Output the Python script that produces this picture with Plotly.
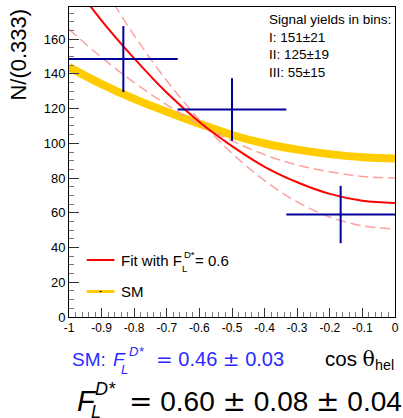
import plotly.graph_objects as go

# ---------------- data ----------------
bin_centers = [-0.8333, -0.5, -0.1667]
bin_half_width = [0.1667, 0.1667, 0.1667]
bin_values = [148.5, 119.5, 59.0]
bin_errors = [19.0, 18.0, 16.5]

curve_x = [-1.0, -0.9, -0.8, -0.7, -0.6, -0.5, -0.4, -0.3, -0.2, -0.1, 0.0]
sm_curve = [143.9, 134.1, 125.6, 118.2, 111.3, 104.8, 99.9, 96.4, 93.8, 92.0, 91.3]
fit_curve = [195.4, 170.7, 148.9, 129.1, 112.3, 98.4, 86.5, 77.6, 70.9, 67.0, 65.7]
fit_band_low_fl = [165.7, 149.4, 135.0, 122.2, 110.8, 101.4, 93.5, 87.5, 83.6, 80.9, 80.0]
fit_band_high_fl = [225.0, 191.9, 162.2, 136.0, 113.5, 94.3, 78.6, 66.3, 57.6, 52.5, 50.7]

x_tickvals = [-1, -0.9, -0.8, -0.7, -0.6, -0.5, -0.4, -0.3, -0.2, -0.1, 0]
x_ticktext = ["-1", "-0.9", "-0.8", "-0.7", "-0.6", "-0.5", "-0.4", "-0.3", "-0.2", "-0.1", "0"]
y_tickvals = [0, 20, 40, 60, 80, 100, 120, 140, 160]
y_ticktext = ["0", "20", "40", "60", "80", "100", "120", "140", "160"]

yield_lines = ["Signal yields in bins:", "I: 151\u00b121", "II: 125\u00b119", "III: 55\u00b115"]

FONT = "Liberation Sans, Arial, Helvetica, sans-serif"
SYM = "DejaVu Sans"
W, H = 403, 418
ML, MR, MT, MB = 69, 4, 7, 101
PW, PH = W - ML - MR, H - MT - MB


def px(x):
    return (x - ML) / PW


def py(y):
    return (H - MB - y) / PH


def sym(ch):
    return "<span style='font-family:%s'>%s</span>" % (SYM, ch)


fig = go.Figure()

fig.add_trace(go.Scatter(x=curve_x, y=sm_curve, mode="lines",
                         line=dict(color="#ffcc00", width=8, shape="spline"),
                         showlegend=False))
fig.add_trace(go.Scatter(x=curve_x, y=fit_band_low_fl, mode="lines",
                         line=dict(color="#ffa0a0", width=1.5, dash="10px,5px", shape="spline"),
                         showlegend=False))
fig.add_trace(go.Scatter(x=curve_x, y=fit_band_high_fl, mode="lines",
                         line=dict(color="#ffa0a0", width=1.5, dash="10px,5px", shape="spline"),
                         showlegend=False))
fig.add_trace(go.Scatter(x=curve_x, y=fit_curve, mode="lines",
                         line=dict(color="#ff0000", width=2, shape="spline"),
                         showlegend=False))
fig.add_trace(go.Scatter(x=bin_centers, y=bin_values, mode="markers",
                         marker=dict(size=1, color="#000099"),
                         error_x=dict(type="data", array=bin_half_width, color="#000099",
                                      thickness=2, width=0),
                         error_y=dict(type="data", array=bin_errors, color="#000099",
                                      thickness=2, width=0),
                         showlegend=False))

fig.update_xaxes(range=[-1, 0], tickvals=x_tickvals, ticktext=x_ticktext,
                 ticks="inside", ticklen=9, tickcolor="#333", tickwidth=1,
                 minor=dict(dtick=0.02, ticks="inside", ticklen=5, tickcolor="#777", tickwidth=1),
                 showline=True, linecolor="black", linewidth=1, mirror=True,
                 showgrid=False, zeroline=False,
                 tickfont=dict(family=FONT, size=12, color="black"))
fig.update_yaxes(range=[0, 178.5], tickvals=y_tickvals, ticktext=y_ticktext,
                 ticks="inside", ticklen=10, tickcolor="#333", tickwidth=1,
                 minor=dict(dtick=5, ticks="inside", ticklen=5, tickcolor="#777", tickwidth=1),
                 showline=True, linecolor="black", linewidth=1, mirror=True,
                 showgrid=False, zeroline=False,
                 tickfont=dict(family=FONT, size=13, color="black"))

ann = []


def text(t, x, y, size, color="black", xanchor="left", **kw):
    ann.append(dict(text=t, x=px(x), y=py(y), xref="paper", yref="paper",
                    showarrow=False, xanchor=xanchor, yanchor="middle",
                    font=dict(family=FONT, size=size, color=color), **kw))


# axis titles
text("N/(0.333)", 18, 55, 22, xanchor="center", textangle=-90)
text("cos <span style='font-family:DejaVu Serif'>\u03b8</span><sub>hel</sub>", 400, 360, 20.5,
     xanchor="right")

# signal yields box
ann.append(dict(text="<br>".join(yield_lines), x=px(269), y=py(10), xref="paper", yref="paper",
                showarrow=False, xanchor="left", yanchor="top", align="left",
                font=dict(family=FONT, size=13.5, color="black")))

# legend
fig.add_shape(type="line", xref="paper", yref="paper", x0=px(87), x1=px(115),
              y0=py(260), y1=py(260), line=dict(color="#ff0000", width=2))
fig.add_shape(type="line", xref="paper", yref="paper", x0=px(87), x1=px(115),
              y0=py(291.5), y1=py(291.5), line=dict(color="#ffcc00", width=3))
fig.add_shape(type="line", xref="paper", yref="paper", x0=px(100), x1=px(102),
              y0=py(291.5), y1=py(291.5), line=dict(color="black", width=1))
text("Fit with F", 120, 260, 15)
text("D*", 183, 254, 9.5)
text("L", 181.5, 268, 9.5)
text("= 0.6", 195, 260, 15)
text("SM", 120, 291.5, 15)

# blue SM line
BLUE = "#2a2aff"
text("SM:", 70, 359, 19, color=BLUE)
text("<i>F</i>", 112, 359, 19, color=BLUE)
text("<i>D*</i>", 128, 352, 13, color=BLUE)
text("<i>L</i>", 120, 369, 13, color=BLUE)
text(sym("=") + " 0.46 " + sym("\u00b1") + " 0.03", 155, 359, 20, color=BLUE)

# big result
text("<i>F</i>", 75, 401, 29)
text("<i>D*</i>", 93, 389, 18)
text("<i>L</i>", 89, 412, 18)
text(sym("=") + " 0.60 " + sym("\u00b1") + " 0.08 " + sym("\u00b1") + " 0.04", 128, 401, 28)

fig.update_layout(width=W, height=H, margin=dict(l=ML, r=MR, t=MT, b=MB),
                  paper_bgcolor="white", plot_bgcolor="white",
                  annotations=ann, showlegend=False)

fig.write_html("out.html", config={"displayModeBar": False},
               post_script="document.body.style.margin='0';document.body.style.overflow='hidden';")
